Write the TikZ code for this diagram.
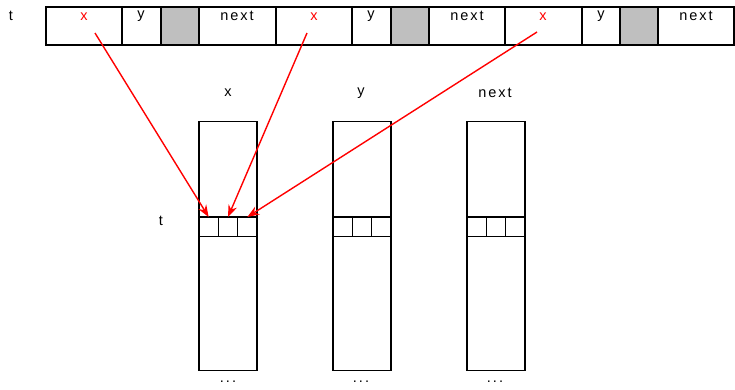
\documentclass[tikz,border=0pt]{standalone}
\usepackage{fontspec}
\setmainfont{Liberation Sans}
\usetikzlibrary{arrows.meta}
\begin{document}
\begin{tikzpicture}[x=1pt,y=-1pt,
  box/.style={draw, line width=1.5pt, inner sep=0pt, outer sep=0pt, anchor=north west},
  slot/.style={box, minimum height=38pt},
  hole/.style={slot, fill=black!25},
  lbl/.style={font=\fontsize{14.5}{14.5}\selectfont\addfontfeature{LetterSpace=14}, inner sep=0pt},
  col/.style={box, minimum width=58pt, minimum height=249pt},
  sub/.style={box, minimum width=19.33pt, minimum height=19.5pt},
  ptr/.style={draw=red, line width=1.4pt, -{Stealth[length=12pt,width=9pt]}}
]
\useasboundingbox (0,0) rectangle (735,389);

% the record array t
\node[lbl] (tname) at (11,16) {t};
\node[slot, minimum width=76pt] (c1)  at (46,7) {};
\node[slot, minimum width=39pt] (c2)  at (122,7) {};
\node[hole, minimum width=38pt] (c3)  at (161,7) {};
\node[slot, minimum width=77pt] (c4)  at (199,7) {};
\node[slot, minimum width=76pt] (c5)  at (276,7) {};
\node[slot, minimum width=39pt] (c6)  at (352,7) {};
\node[hole, minimum width=38pt] (c7)  at (391,7) {};
\node[slot, minimum width=76pt] (c8)  at (429,7) {};
\node[slot, minimum width=77pt] (c9)  at (505,7) {};
\node[slot, minimum width=38pt] (c10) at (582,7) {};
\node[hole, minimum width=38pt] (c11) at (620,7) {};
\node[slot, minimum width=76pt] (c12) at (658,7) {};

\node[lbl, text=red] (x1) at (84,17) {x};
\node[lbl] (y1) at (141,16) {y};
\node[lbl] (n1) at (237,16) {next};
\node[lbl, text=red] (x2) at (314,17) {x};
\node[lbl] (y2) at (371,16) {y};
\node[lbl] (n2) at (467,16) {next};
\node[lbl, text=red] (x3) at (543,17) {x};
\node[lbl] (y3) at (601,16) {y};
\node[lbl] (n3) at (696,16) {next};

% the three field arrays
\node[lbl] (hx) at (228,93) {x};
\node[lbl] (hy) at (361,93) {y};
\node[lbl] (hn) at (495,93) {next};

\node[col] (ax) at (199,121.5) {};
\node[col] (ay) at (333,121.5) {};
\node[col] (an) at (467,121.5) {};

\node[lbl] (trow) at (161,221) {t};
\foreach \c/\x in {ax/199, ay/333, an/467}{
  \node[sub] (\c1) at (\x,217) {};
  \node[sub] (\c2) at (\x+19.33,217) {};
  \node[sub] (\c3) at (\x+38.67,217) {};
}

\node[lbl] (dx) at (228,382) {...};
\node[lbl] (dy) at (361,382) {...};
\node[lbl] (dn) at (495,382) {...};

% x fields of t point into the x array
\coordinate (s1) at (95,33);
\coordinate (s2) at (307,33);
\coordinate (s3) at (537,32);
\path[ptr] (s1) -- (ax1.north);
\path[ptr] (s2) -- (ax2.north);
\path[ptr] (s3) -- (ax3.north);
\end{tikzpicture}
\end{document}
